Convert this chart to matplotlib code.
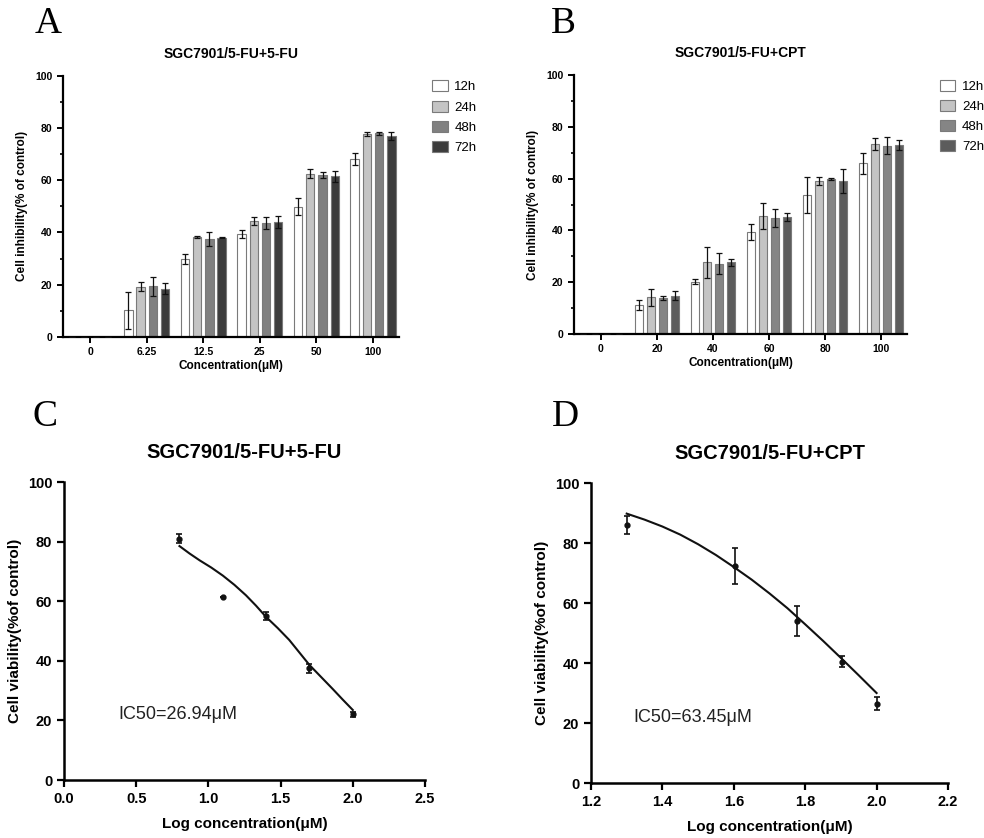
import matplotlib
matplotlib.use("Agg")
import matplotlib.pyplot as plt
import numpy as np
from matplotlib.ticker import MultipleLocator

plt.rcParams['font.family'] = ['Liberation Sans', 'DejaVu Sans']

# ---- data ----
times = ['12h', '24h', '48h', '72h']

conc_a = ['0', '6.25', '12.5', '25', '50', '100']
inhib_a = [
    [0, 10.2, 29.9, 39.4, 49.9, 68.3],   # 12h
    [0, 19.2, 38.2, 44.5, 62.5, 77.7],   # 24h
    [0, 19.3, 37.6, 43.7, 62.0, 78.0],   # 48h
    [0, 18.5, 38.0, 44.1, 61.6, 76.9],   # 72h
]
err_a = [
    [0, 7.0, 2.0, 1.4, 3.4, 2.3],
    [0, 1.7, 0.3, 1.6, 1.7, 0.8],
    [0, 3.5, 2.6, 2.3, 1.0, 0.5],
    [0, 2.0, 0.3, 2.2, 2.1, 1.4],
]

conc_b = ['0', '20', '40', '60', '80', '100']
inhib_b = [
    [0, 11.3, 20.2, 39.3, 53.8, 66.0],
    [0, 14.2, 27.7, 45.7, 59.2, 73.4],
    [0, 13.9, 27.2, 44.8, 59.8, 72.8],
    [0, 14.8, 27.7, 45.2, 59.1, 73.1],
]
err_b = [
    [0, 1.9, 1.0, 3.0, 7.0, 4.1],
    [0, 3.3, 6.0, 5.0, 1.6, 2.3],
    [0, 0.8, 4.0, 3.3, 0.4, 3.2],
    [0, 1.8, 1.3, 1.5, 4.7, 2.0],
]

# dose-response points
logc_c = [0.8, 1.1, 1.4, 1.7, 2.0]
viab_c = [81.0, 61.5, 55.0, 37.5, 22.0]
verr_c = [1.5, 0.0, 1.3, 1.5, 0.8]
curve_x_c = [0.80, 0.87, 0.94, 1.02, 1.10, 1.18, 1.26, 1.33, 1.40, 1.48, 1.56, 1.63, 1.70, 1.78, 1.86, 1.93, 2.00]
curve_y_c = [78.5, 76.0, 73.7, 71.3, 68.6, 65.5, 62.0, 58.5, 54.7, 51.0, 47.0, 42.8, 38.6, 34.6, 30.6, 27.0, 23.5]

logc_d = [1.301, 1.602, 1.778, 1.903, 2.0]
viab_d = [85.9, 72.4, 54.0, 40.5, 26.4]
verr_d = [3.0, 6.0, 4.9, 1.7, 2.2]
curve_x_d = [1.30, 1.35, 1.40, 1.45, 1.50, 1.55, 1.60, 1.65, 1.70, 1.75, 1.80, 1.85, 1.90, 1.95, 2.00]
curve_y_d = [89.8, 87.8, 85.5, 82.8, 79.6, 76.0, 72.0, 67.8, 63.2, 58.3, 52.9, 47.4, 41.7, 35.9, 30.0]

fig = plt.figure(figsize=(9.84, 8.38), dpi=100)


def bar_panel(rect, cats, vals, errs, title, colors):
    ax = fig.add_axes(rect)
    x = np.arange(len(cats))
    width = 0.148
    step = 0.216
    for i, t in enumerate(times):
        pos = x + (i - 1.5) * step
        ax.bar(pos, vals[i], width, color=colors[i], edgecolor='#7a7a7a',
               linewidth=0.8, label=t, zorder=2)
        ax.errorbar(pos, vals[i], yerr=errs[i], fmt='none', ecolor='#111111',
                    elinewidth=0.9, capsize=2.2, capthick=0.9, zorder=3)
    ax.set_xlim(-0.48, 5.46)
    ax.set_ylim(0, 100)
    ax.set_xticks(x)
    ax.set_xticklabels(cats)
    ax.yaxis.set_major_locator(MultipleLocator(20))
    ax.yaxis.set_minor_locator(MultipleLocator(10))
    for s in ['top', 'right']:
        ax.spines[s].set_visible(False)
    for s in ['left', 'bottom']:
        ax.spines[s].set_linewidth(1.6)
    ax.tick_params(width=1.4, length=4, labelsize=7.5)
    ax.tick_params(which='minor', width=1.2, length=2.5)
    for lab in ax.get_xticklabels() + ax.get_yticklabels():
        lab.set_fontweight('bold')
    ax.set_xlabel('Concentration(μM)', fontsize=8.5, fontweight='bold', labelpad=2)
    ax.set_ylabel('Cell inhibility(% of control)', fontsize=8.5, fontweight='bold', labelpad=5)
    ax.set_title(title, fontsize=10, fontweight='bold', pad=13)
    ax.legend(loc='upper left', bbox_to_anchor=(1.082, 1.003), frameon=False,
              fontsize=9.5, handlelength=1.2, handleheight=0.9, labelspacing=0.55,
              handletextpad=0.5, borderaxespad=0.0)
    return ax


def curve_panel(rect, lx, vy, ve, cx, cy, xlim, xstep, title, ic50, txt_xy):
    ax = fig.add_axes(rect)
    ax.plot(cx, cy, color='#111111', linewidth=1.5, zorder=2)
    ax.errorbar(lx, vy, yerr=ve, fmt='o', color='#111111', markersize=3.5,
                elinewidth=1.2, capsize=2.5, capthick=1.2, zorder=3)
    ax.set_xlim(*xlim)
    ax.set_ylim(0, 100)
    ax.xaxis.set_major_locator(MultipleLocator(xstep))
    ax.yaxis.set_major_locator(MultipleLocator(20))
    ax.xaxis.set_major_formatter(matplotlib.ticker.FormatStrFormatter('%.1f'))
    for s in ['top', 'right']:
        ax.spines[s].set_visible(False)
    for s in ['left', 'bottom']:
        ax.spines[s].set_linewidth(1.8)
    ax.tick_params(width=1.6, length=5, labelsize=10.5)
    for lab in ax.get_xticklabels() + ax.get_yticklabels():
        lab.set_fontweight('bold')
    ax.set_xlabel('Log concentration(μM)', fontsize=11, fontweight='bold', labelpad=8)
    ax.set_ylabel('Cell viability(%of control)', fontsize=11, fontweight='bold', labelpad=4)
    ax.set_title(title, fontsize=14.5, fontweight='bold', pad=17)
    ax.text(txt_xy[0], txt_xy[1], ic50, fontsize=13, ha='left', va='center', color='#222222')
    return ax


bar_panel([0.064, 0.598, 0.3415, 0.3115], conc_a, inhib_a, err_a,
          'SGC7901/5-FU+5-FU', ['white', '#c4c4c4', '#808080', '#3c3c3c'])
bar_panel([0.5833, 0.6014, 0.3384, 0.309], conc_b, inhib_b, err_b,
          'SGC7901/5-FU+CPT', ['white', '#c4c4c4', '#858585', '#5c5c5c'])

curve_panel([0.065, 0.0692, 0.3669, 0.3556], logc_c, viab_c, verr_c,
            curve_x_c, curve_y_c, (0.0, 2.5), 0.5, 'SGC7901/5-FU+5-FU',
            'IC50=26.94μM', (0.38, 22))
curve_panel([0.6006, 0.0656, 0.3628, 0.358], logc_d, viab_d, verr_d,
            curve_x_d, curve_y_d, (1.2, 2.2), 0.2, 'SGC7901/5-FU+CPT',
            'IC50=63.45μM', (1.32, 22))

# panel letters
for letter, px, py in [('A', 35, 33), ('B', 551, 33), ('C', 32, 426), ('D', 552, 426)]:
    fig.text(px / 984, 1 - py / 838, letter, fontsize=27, family='Liberation Serif',
             ha='left', va='baseline')

fig.savefig('out.png', dpi=100)
